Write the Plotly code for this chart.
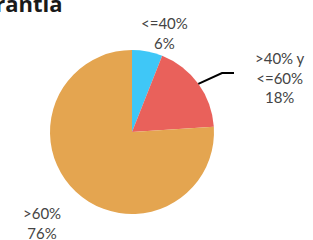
import math
import plotly.graph_objects as go

labels = ["<=40%", ">40% y<br><=60%", ">60%"]
values = [6, 18, 76]
colors = ["#3FC7F7", "#E9615B", "#E4A550"]
title_text = "Garantía"

W, H = 313, 240
cx, cy, r = 132, 132, 82  # pie geometry in page pixels


def px(x):
    return x / W


def py(y):
    return 1 - y / H


fig = go.Figure(go.Pie(
    labels=labels,
    values=values,
    sort=False,
    direction="clockwise",
    rotation=0,
    marker=dict(colors=colors, line=dict(color="white", width=0)),
    textinfo="none",
    hoverinfo="label+percent",
    showlegend=False,
    domain=dict(x=[px(cx - r), px(cx + r)],
                y=[py(cy + r), py(cy - r)]),
))

label_pos = [(164, 33), (280, 78), (42, 223)]
total = sum(values)
annotations = []
for lab, v, (lx, ly) in zip(labels, values, label_pos):
    annotations.append(dict(
        x=px(lx), y=py(ly), xref="paper", yref="paper",
        text=f"{lab}<br>{round(100 * v / total)}%",
        showarrow=False, xanchor="center", yanchor="middle",
        font=dict(family="Lato", size=15, color="#444444"),
    ))

annotations.append(dict(
    x=px(65), y=py(13), xref="paper", yref="paper",
    text=f"<b>{title_text}</b>", showarrow=False,
    xanchor="right", yanchor="bottom", yshift=-7,
    font=dict(family="Open Sans", size=22, color="#1a1a1a"),
))

# leader line for the second slice, starting on the pie edge at the slice mid-angle
mid = (values[0] + values[1] / 2) / total * 2 * math.pi
sx = cx + r * math.sin(mid)
sy = cy - r * math.cos(mid)
path = f"M {px(sx)} {py(sy)} L {px(222)} {py(73)} L {px(234)} {py(73)}"

fig.update_layout(
    width=W, height=H,
    margin=dict(l=0, r=0, t=0, b=0),
    paper_bgcolor="white", plot_bgcolor="white",
    annotations=annotations,
    shapes=[dict(type="path", path=path, xref="paper", yref="paper",
                 line=dict(color="black", width=2))],
)

fig.write_html("out.html", config={"displayModeBar": False},
               post_script="document.body.style.margin='0';")
